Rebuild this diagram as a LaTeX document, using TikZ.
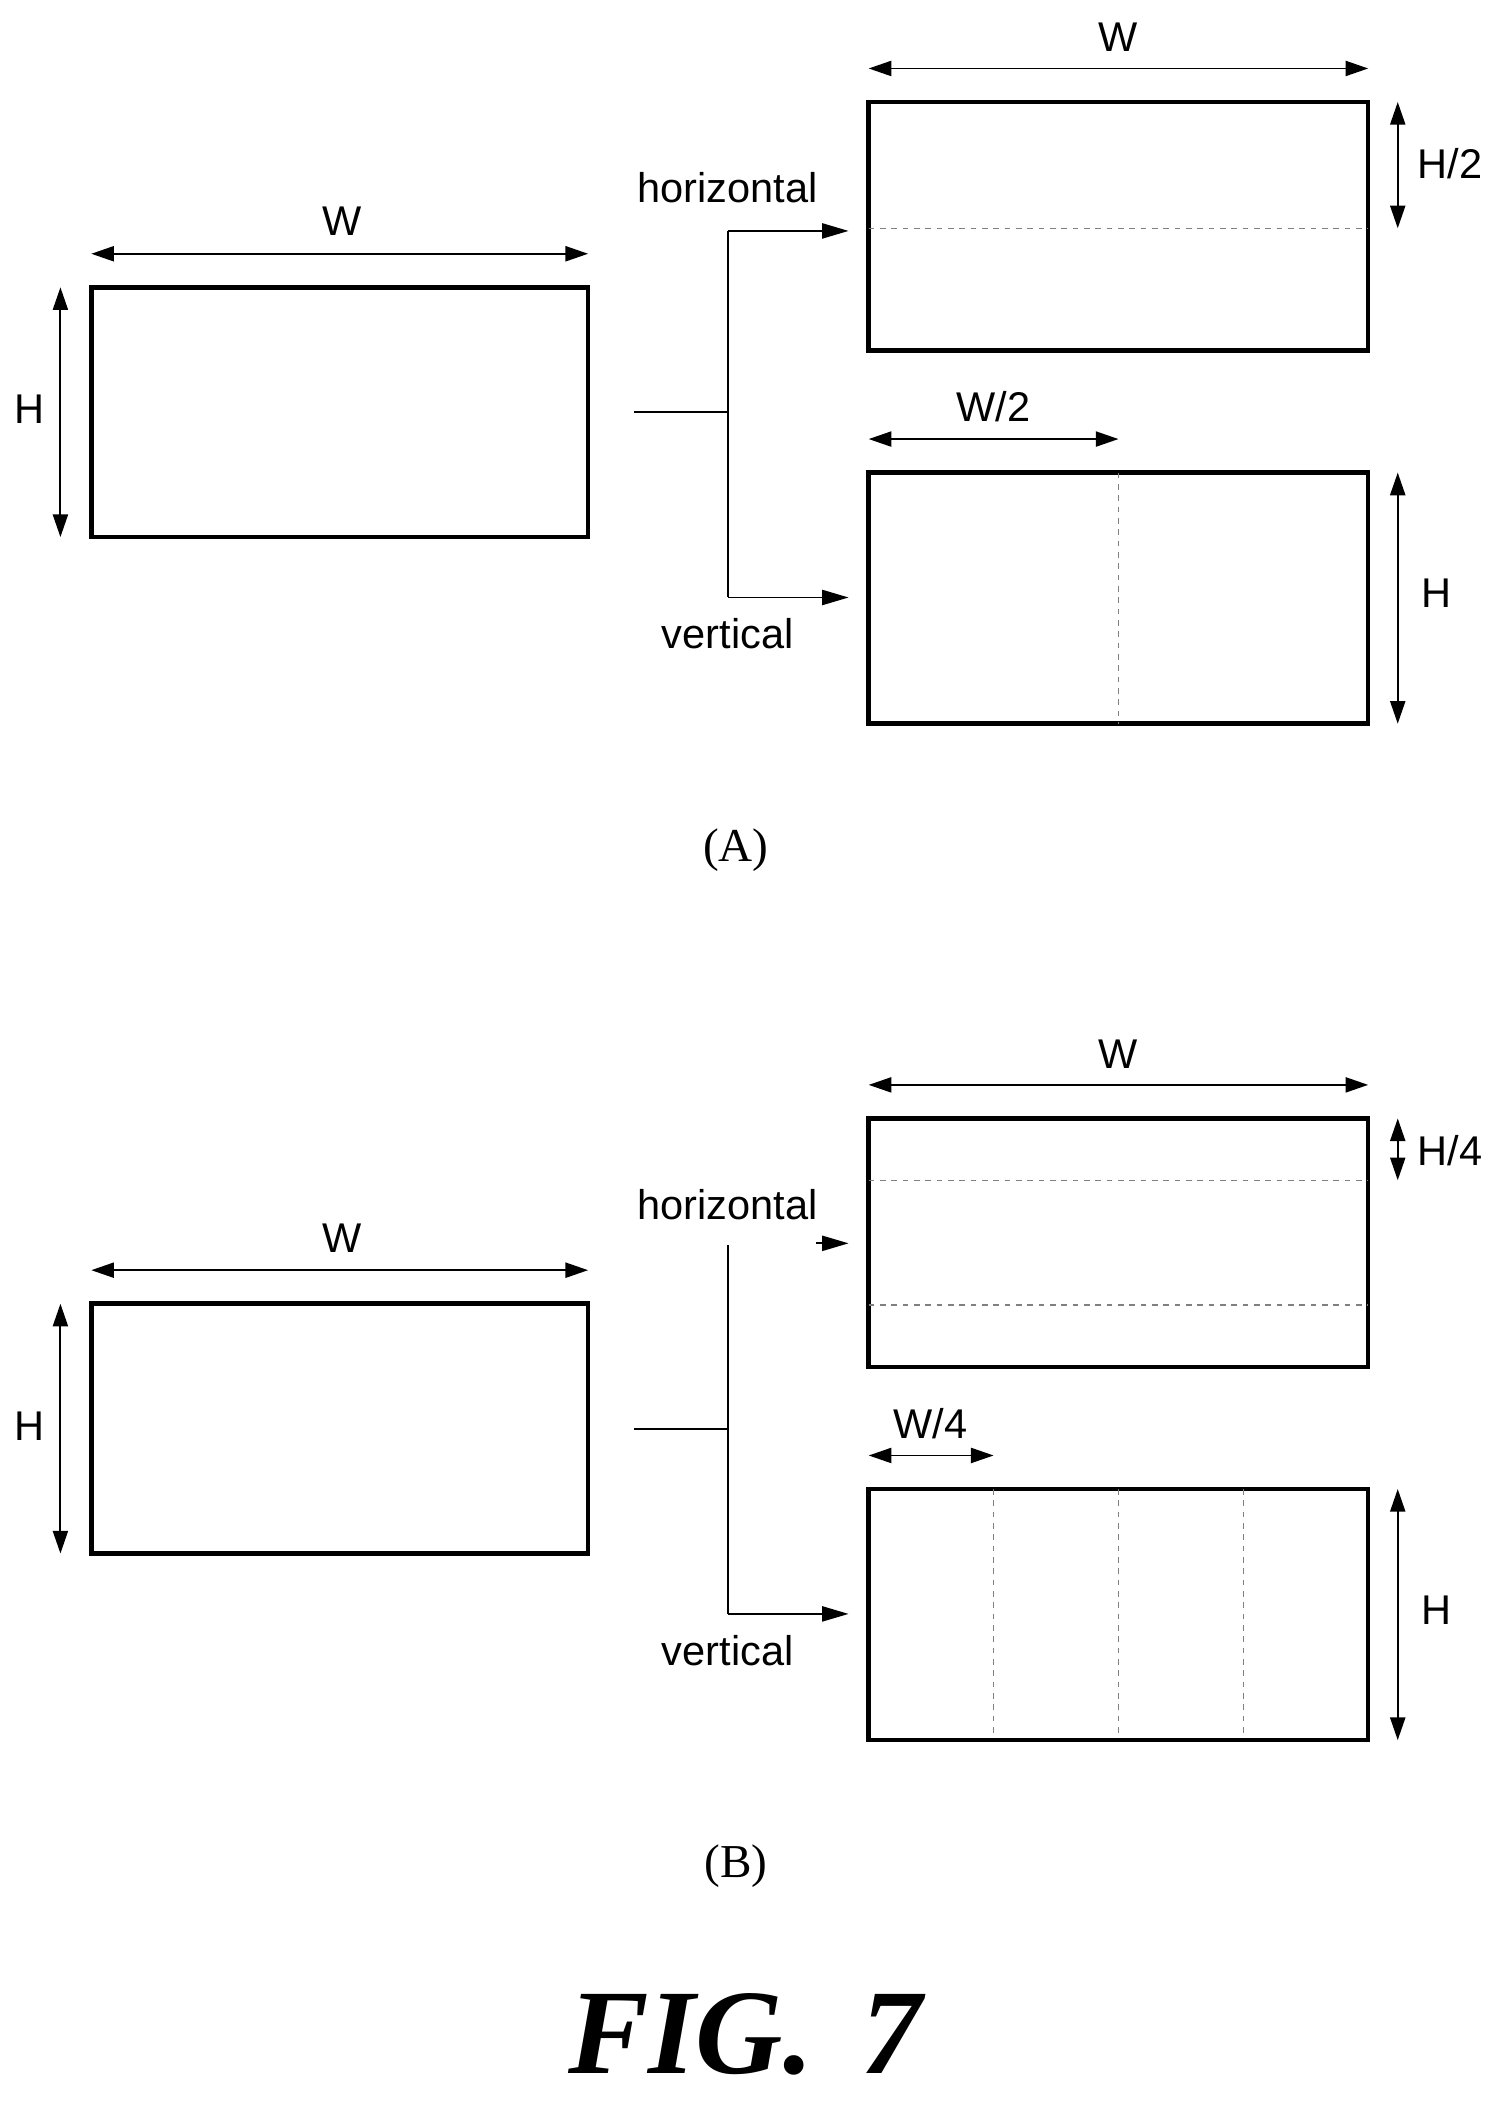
\documentclass[tikz,border=0pt]{standalone}
\usepackage{fontspec}
\setmainfont{Liberation Serif}
\newfontfamily\lab{Liberation Sans}
\usetikzlibrary{arrows.meta}
\begin{document}
\begin{tikzpicture}[x=0.025cm,y=-0.025cm,
 box/.style={line width=2.4pt},
 dim/.style={line width=1pt,{Triangle[length=12pt,width=8pt]}-{Triangle[length=12pt,width=8pt]}},
 con/.style={line width=1pt},
 arr/.style={line width=1pt,-{Triangle[length=14pt,width=8pt]}},
 dsh/.style={dashed,gray,line width=0.7pt},
 lb/.style={font=\lab\fontsize{22}{24}\selectfont},
 captxt/.style={font=\fontsize{25}{27}\selectfont}]
\useasboundingbox (0,0) rectangle (1120,1570);
\foreach \o/\n in {0/A,757/B}{
 \draw[box] (68,214+\o) rectangle (438,400+\o);
 \coordinate (wl\n) at (68,189+\o); \coordinate (wr\n) at (438,189+\o);
 \draw[dim] (wl\n) -- (wr\n);
 \node[lb] (Wt\n) at (255,165+\o) {W};
 \coordinate (ht\n) at (45,214+\o); \coordinate (hb\n) at (45,400+\o);
 \draw[dim] (ht\n) -- (hb\n);
 \node[lb] (Ht\n) at (22,305+\o) {H};
 \coordinate (s\n) at (472,307+\o); \coordinate (j\n) at (542,307+\o);
 \draw[con] (s\n) -- (j\n);
 \draw[box] (647,76+\o) rectangle (1019,261+\o);
 \draw[box] (647,352+\o) rectangle (1019,539+\o);
 \coordinate (a1\n) at (647,51+\o); \coordinate (a2\n) at (1019,51+\o);
 \draw[dim] (a1\n) -- (a2\n);
 \node[lb] (Wr\n) at (833,28+\o) {W};
 \node[lb] (hz\n) at (542,140+\o) {horizontal};
 \node[lb] (vt\n) at (542,472+\o) {vertical};
 \coordinate (b1\n) at (1041,352+\o); \coordinate (b2\n) at (1041,539+\o);
 \draw[dim] (b1\n) -- (b2\n);
 \node[lb] (Hr\n) at (1070,442+\o) {H};
 \coordinate (v1\n) at (542,445+\o); \coordinate (v2\n) at (632,445+\o);
 \draw[arr] (v1\n) -- (v2\n);
}
% A specifics
\coordinate (tA) at (542,172); \coordinate (tA2) at (632,172);
\draw[con] (tA) -- (v1A); \draw[arr] (tA) -- (tA2);
\draw[dsh] (647,170) -- (1019,170);
\draw[dsh] (833,352) -- (833,539);
\coordinate (p1) at (647,327); \coordinate (p2) at (833,327);
\draw[dim] (p1) -- (p2); \node[lb] (w2) at (740,303) {W/2};
\coordinate (q1) at (1041,76); \coordinate (q2) at (1041,170);
\draw[dim] (q1) -- (q2); \node[lb] (h2) at (1080,122) {H/2};
\node[captxt] (capA) at (548,633) {(A)};
% B specifics
\coordinate (tB) at (542,927);
\draw[con] (tB) -- (v1B);
\coordinate (r1) at (608,926); \coordinate (r2) at (632,926);
\draw[arr] (r1) -- (r2);
\draw[dsh] (647,879) -- (1019,879);
\draw[dsh] (647,972) -- (1019,972);
\foreach \x in {740,833,926} \draw[dsh] (\x,1109) -- (\x,1294);
\coordinate (m1) at (647,1084); \coordinate (m2) at (740,1084);
\draw[dim] (m1) -- (m2); \node[lb] (w4) at (693,1060) {W/4};
\coordinate (n1) at (1041,833); \coordinate (n2) at (1041,879);
\draw[dim] (n1) -- (n2); \node[lb] (h4) at (1080,857) {H/4};
\node[captxt] (capB) at (548,1390) {(B)};
\node[font=\fontsize{64}{70}\selectfont\bfseries\itshape] (fig) at (555,1515) {FIG.\hspace{0.4em}7};
\end{tikzpicture}
\end{document}
